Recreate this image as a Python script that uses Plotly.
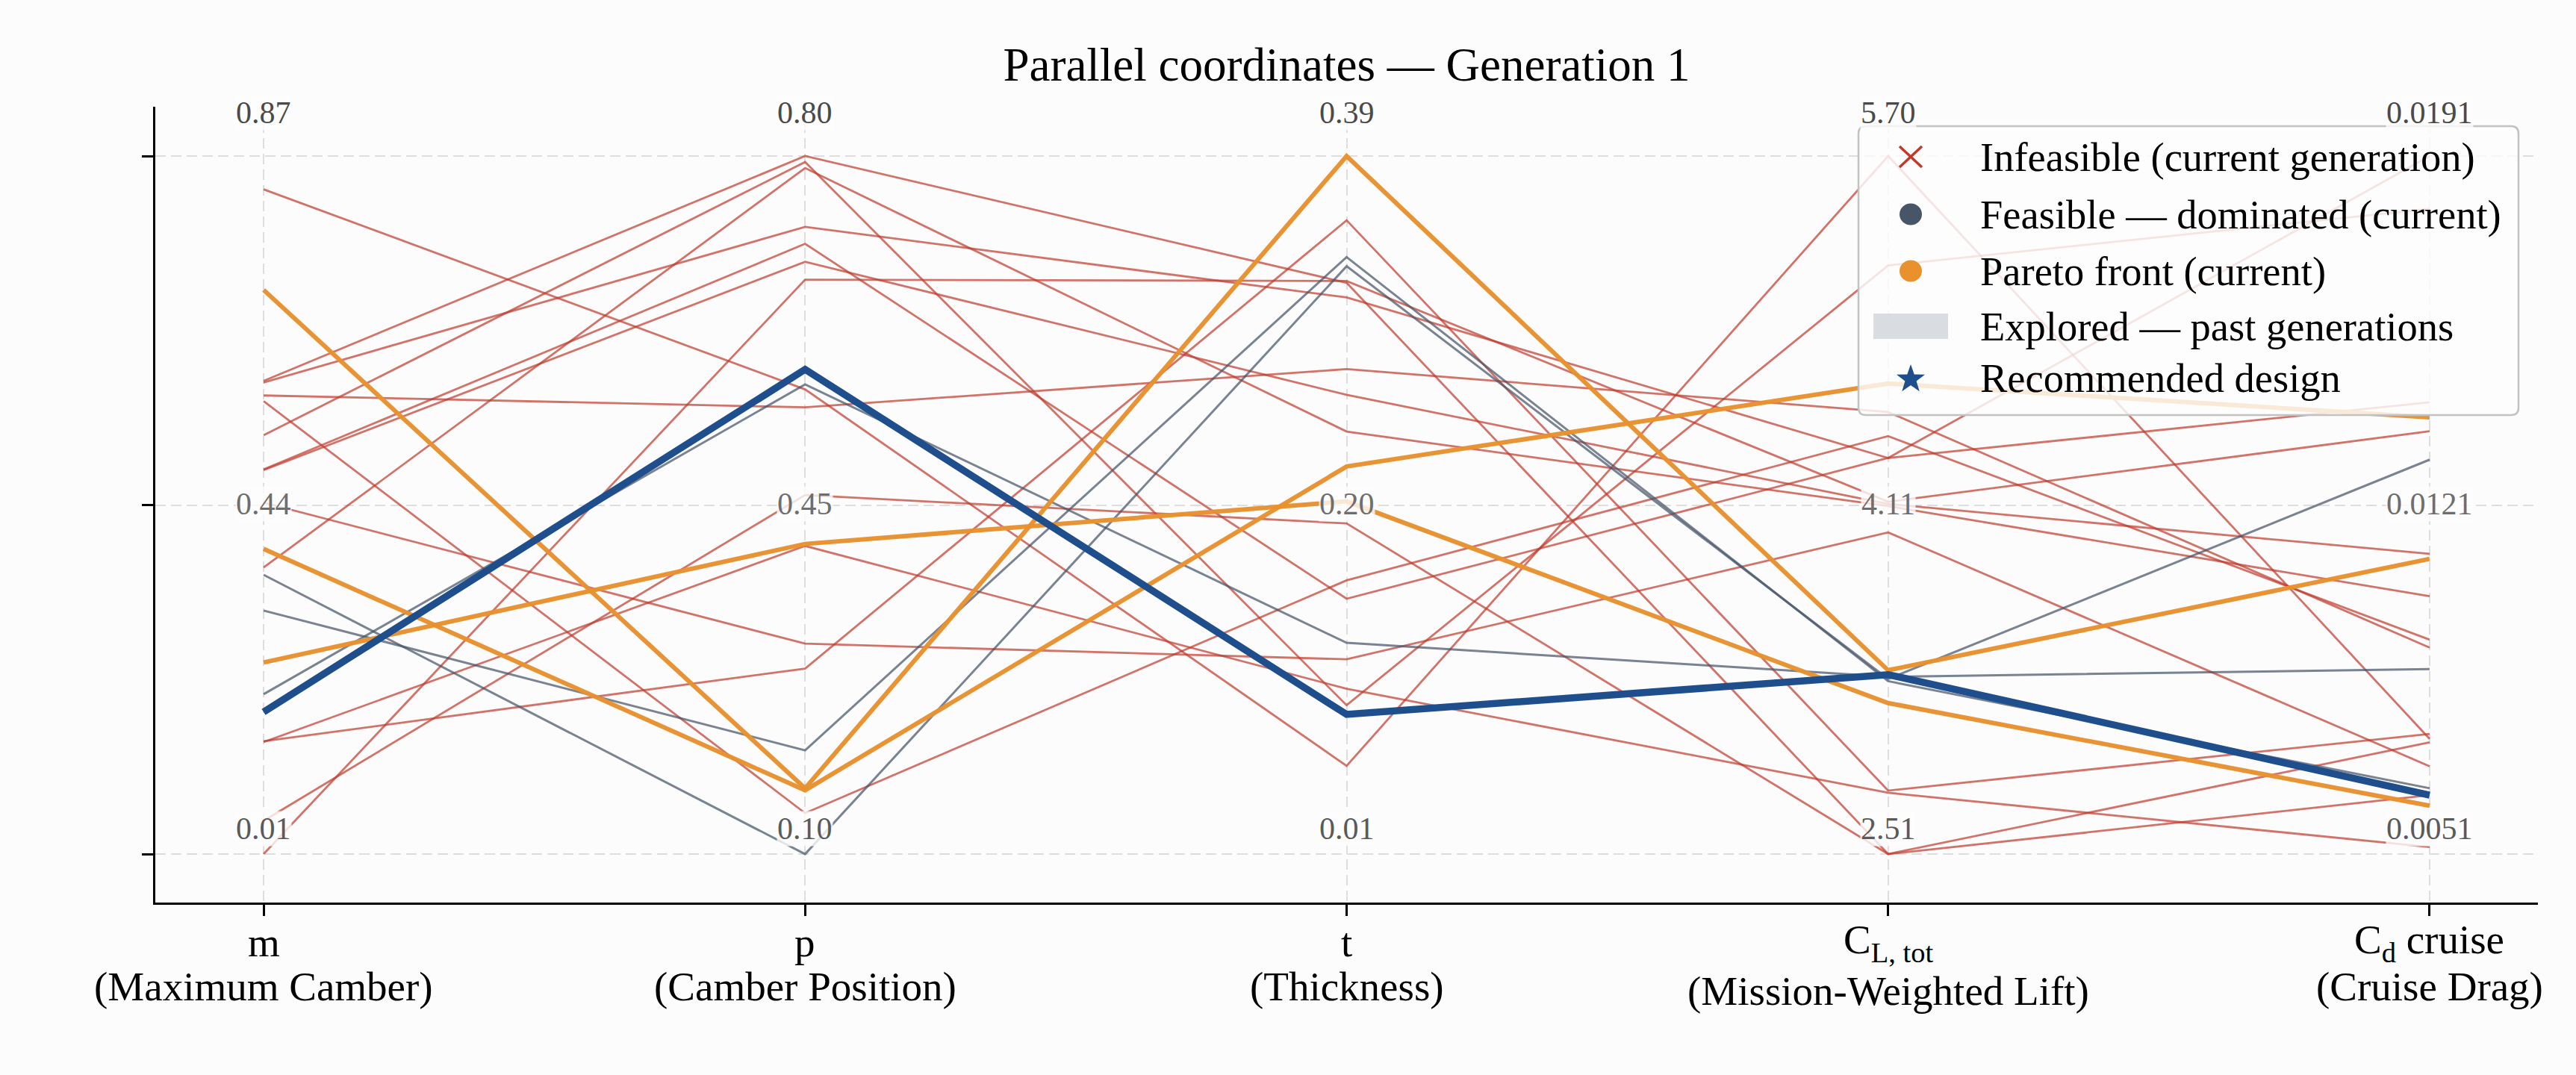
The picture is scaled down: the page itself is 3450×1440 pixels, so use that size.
import math
import plotly.graph_objects as go

# ---------------- data ----------------
axis_symbols = ["m", "p", "t", "C<sub>L, tot</sub>", "C<sub>d</sub> cruise"]
axis_descriptions = ["(Maximum Camber)", "(Camber Position)", "(Thickness)",
                     "(Mission-Weighted Lift)", "(Cruise Drag)"]
axis_min = [0.01, 0.10, 0.01, 2.51, 0.0051]
axis_max = [0.87, 0.80, 0.39, 5.70, 0.0191]
label_max = ["0.87", "0.80", "0.39", "5.70", "0.0191"]
label_mid = ["0.44", "0.45", "0.20", "4.11", "0.0121"]
label_min = ["0.01", "0.10", "0.01", "2.51", "0.0051"]

status = (["infeasible"] * 14) + (["dominated"] * 3) + (["pareto"] * 3) + ["recommended"]

m_vals = [0.829, 0.593, 0.591, 0.575, 0.568, 0.526, 0.484, 0.483, 0.443, 0.363, 0.149,
          0.148, 0.051, 0.010, 0.354, 0.310, 0.207, 0.705, 0.386, 0.246, 0.185]
p_vals = [0.566, 0.800, 0.729, 0.548, 0.141, 0.794, 0.712, 0.694, 0.311, 0.788, 0.286,
          0.409, 0.460, 0.676, 0.100, 0.204, 0.571, 0.166, 0.164, 0.411, 0.586]
t_vals = [0.058, 0.321, 0.313, 0.274, 0.159, 0.091, 0.149, 0.260, 0.116, 0.240, 0.355,
          0.100, 0.190, 0.322, 0.330, 0.335, 0.125, 0.390, 0.221, 0.202, 0.086]
cl_vals = [5.70, 2.51, 4.32, 4.53, 4.42, 5.20, 4.32, 4.11, 3.98, 4.10, 2.80,
           2.79, 2.51, 4.12, 3.31, 3.30, 3.32, 3.35, 4.66, 3.20, 3.33]
cd_vals = [0.00741, 0.00734, 0.01910, 0.00924, 0.00940, 0.01804, 0.01416, 0.01112, 0.00686,
           0.01027, 0.00751, 0.00524, 0.00628, 0.01358, 0.01301, 0.00642, 0.00881, 0.01102,
           0.01386, 0.00607, 0.00628]

legend_labels = [
    "Infeasible (current generation)",
    "Feasible — dominated (current)",
    "Pareto front (current)",
    "Explored — past generations",
    "Recommended design",
]

# ---------------- styles ----------------
FONT = "Liberation Serif, Times New Roman, serif"
BG = "#fcfcfc"
style = {
    "infeasible": dict(color="rgba(192,57,43,0.70)", width=2.8),
    "dominated": dict(color="rgba(71,85,105,0.72)", width=3.0),
    "pareto": dict(color="rgba(232,145,45,0.97)", width=6.0),
    "recommended": dict(color="#1f4e8c", width=9.5),
}
order = ["infeasible", "dominated", "pareto", "recommended"]

columns = [m_vals, p_vals, t_vals, cl_vals, cd_vals]
xpos = list(range(len(columns)))

fig = go.Figure()
for st in order:
    for i, s in enumerate(status):
        if s != st:
            continue
        ys = [(col[i] - lo) / (hi - lo) for col, lo, hi in zip(columns, axis_min, axis_max)]
        fig.add_trace(go.Scatter(x=xpos, y=ys, mode="lines", line=style[st],
                                 hoverinfo="skip", showlegend=False))

W, H = 3450, 1440
ml, mr, mt, mb = 208, 51, 143, 231
pw, ph = W - ml - mr, H - mt - mb


def px2paper(xp, yp):
    return (xp - ml) / pw, (H - mb - yp) / ph


# ---------------- axis value labels ----------------
annotations = []
for k in xpos:
    for txt, yv, col in ((label_max[k], 1.062, "#4a4a4a"),
                         (label_mid[k], 0.502, "#6e6e6e"),
                         (label_min[k], 0.036, "#5a5a5a")):
        annotations.append(dict(x=k, y=yv, xref="x", yref="y", text=txt, showarrow=False,
                                xanchor="center", yanchor="middle",
                                font=dict(family=FONT, size=42, color=col),
                                bgcolor="rgba(252,252,252,0.8)", borderpad=0))

# ---------------- axis names (two lines under each tick) ----------------
for k in xpos:
    _, y1 = px2paper(0, 1262)
    _, y2 = px2paper(0, 1327 if k == 3 else 1321)
    annotations.append(dict(x=k, y=y1, xref="x", yref="paper", text=axis_symbols[k],
                            showarrow=False, xanchor="center", yanchor="middle",
                            font=dict(family=FONT, size=55, color="black")))
    annotations.append(dict(x=k, y=y2, xref="x", yref="paper", text=axis_descriptions[k],
                            showarrow=False, xanchor="center", yanchor="middle",
                            font=dict(family=FONT, size=55, color="black")))

# ---------------- custom legend ----------------
bx0, by_top = px2paper(2489, 169)
bx1, by_bot = px2paper(3373, 556)
r = 10
rx, ry = r / pw, r / ph
box_path = (f"M {bx0+rx},{by_top} L {bx1-rx},{by_top} Q {bx1},{by_top} {bx1},{by_top-ry} "
            f"L {bx1},{by_bot+ry} Q {bx1},{by_bot} {bx1-rx},{by_bot} "
            f"L {bx0+rx},{by_bot} Q {bx0},{by_bot} {bx0},{by_bot+ry} "
            f"L {bx0},{by_top-ry} Q {bx0},{by_top} {bx0+rx},{by_top} Z")
shapes = [dict(type="path", path=box_path, xref="paper", yref="paper",
               fillcolor="rgba(253,253,253,0.82)", line=dict(color="#c2c2c2", width=2.5),
               layer="above")]

row_y = [210, 287, 363, 437, 507]
sym_x, _ = px2paper(2559, 0)
text_x, _ = px2paper(2650, 0)


def pxshape(kind, yrow, **kw):
    _, ya = px2paper(0, yrow)
    d = dict(type=kind, xref="paper", yref="paper", xsizemode="pixel", ysizemode="pixel",
             xanchor=sym_x, yanchor=ya, layer="above")
    d.update(kw)
    return d


shapes.append(pxshape("line", row_y[0], x0=-15, x1=15, y0=-14, y1=14,
                      line=dict(color="#c0392b", width=3.5)))
shapes.append(pxshape("line", row_y[0], x0=-15, x1=15, y0=14, y1=-14,
                      line=dict(color="#c0392b", width=3.5)))
shapes.append(pxshape("circle", row_y[1], x0=-15, x1=15, y0=-14.5, y1=14.5,
                      fillcolor="#475569", line=dict(width=0)))
shapes.append(pxshape("circle", row_y[2], x0=-15, x1=15, y0=-14.5, y1=14.5,
                      fillcolor="#e8912d", line=dict(width=0)))
shapes.append(pxshape("rect", row_y[3], x0=-50, x1=50, y0=-17, y1=17,
                      fillcolor="#d9dce1", line=dict(width=0)))
pts = []
for j in range(10):
    rad = 20 if j % 2 == 0 else 8
    ang = math.pi / 2 + j * math.pi / 5
    pts.append((rad * math.cos(ang), rad * math.sin(ang) - 1))
star_path = "M " + " L ".join(f"{a:.2f},{b:.2f}" for a, b in pts) + " Z"
shapes.append(pxshape("path", row_y[4], path=star_path, fillcolor="#1f4e8c",
                      line=dict(width=0)))

for lbl, yr in zip(legend_labels, row_y):
    _, yp = px2paper(0, yr)
    annotations.append(dict(x=text_x, y=yp, xref="paper", yref="paper", text=lbl,
                            showarrow=False, xanchor="left", yanchor="middle",
                            font=dict(family=FONT, size=54.5, color="black")))

# ---------------- layout ----------------
fig.update_layout(
    width=W, height=H,
    margin=dict(l=ml, r=mr, t=mt, b=mb, autoexpand=False),
    paper_bgcolor=BG, plot_bgcolor=BG,
    title=dict(text="Parallel coordinates — Generation 1", x=0.5, xref="paper",
               xanchor="center", y=1 - 86 / H, yref="container", yanchor="middle",
               font=dict(family=FONT, size=63, color="black")),
    shapes=shapes,
    annotations=annotations,
    showlegend=False,
)
fig.update_xaxes(range=[-0.2, 4.2], tickvals=xpos, showticklabels=False,
                 ticks="outside", ticklen=15, tickwidth=2.5, tickcolor="black",
                 showline=True, linecolor="black", linewidth=2.5,
                 showgrid=True, gridcolor="#dedede", gridwidth=2, griddash="14px,7px",
                 zeroline=False)
fig.update_yaxes(range=[-0.0695, 1.0706], tickvals=[0, 0.5, 1], showticklabels=False,
                 ticks="outside", ticklen=15, tickwidth=2.5, tickcolor="black",
                 showline=True, linecolor="black", linewidth=2.5,
                 showgrid=True, gridcolor="#dedede", gridwidth=2, griddash="14px,7px",
                 zeroline=False)

fig.write_html("out.html")
